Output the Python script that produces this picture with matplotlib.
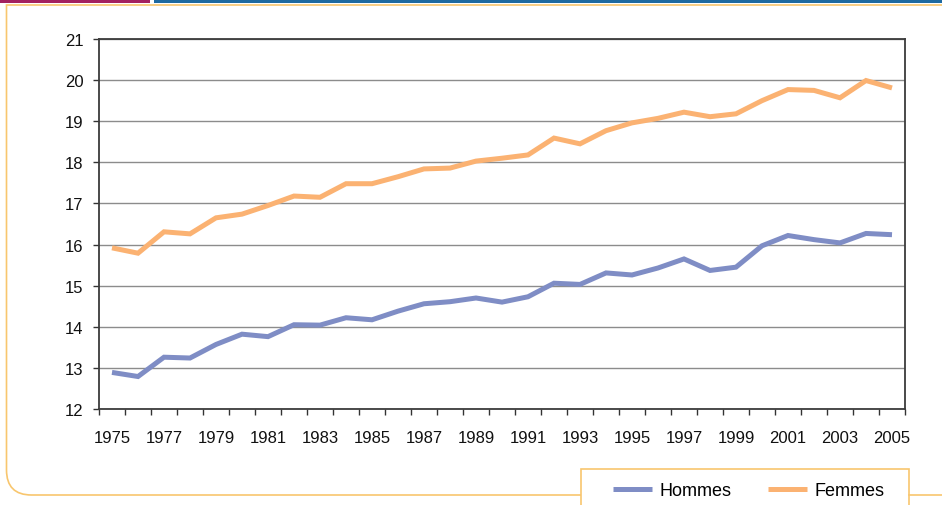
import numpy as np
import matplotlib
matplotlib.use('Agg')
import matplotlib.pyplot as plt
from matplotlib.patches import Rectangle
from matplotlib.path import Path
from matplotlib.patches import PathPatch

plt.rcParams['font.family'] = ['Liberation Sans', 'DejaVu Sans']

years = list(range(1975, 2006))
hommes = [12.89, 12.79, 13.26, 13.24, 13.57, 13.82, 13.76, 14.05, 14.04, 14.22,
          14.17, 14.38, 14.56, 14.61, 14.70, 14.60, 14.73, 15.06, 15.03, 15.31,
          15.26, 15.43, 15.65, 15.37, 15.45, 15.97, 16.22, 16.12, 16.04, 16.27,
          16.24]
femmes = [15.92, 15.79, 16.31, 16.26, 16.65, 16.74, 16.95, 17.18, 17.15, 17.48,
          17.48, 17.65, 17.84, 17.86, 18.03, 18.10, 18.18, 18.59, 18.45, 18.77,
          18.96, 19.07, 19.22, 19.11, 19.18, 19.50, 19.77, 19.75, 19.57, 19.99,
          19.81]
series_names = ['Hommes', 'Femmes']
series_colors = ['#7f8dc5', '#fbb272']
y_ticks = list(range(12, 22))

W, H = 942, 506
fig = plt.figure(figsize=(W / 100, H / 100), dpi=100)

# decorative frame (pixel coords overlay)
deco = fig.add_axes([0, 0, 1, 1], zorder=0)
deco.set_xlim(0, W)
deco.set_ylim(H, 0)
deco.axis('off')
orange = '#f8c66e'
deco.add_patch(Rectangle((0, 0), 150, 3.5, color='#a3215f', lw=0))
deco.add_patch(Rectangle((154, 0), W - 154, 3.5, color='#1f6aa0', lw=0))
r = 25
verts = [(W, 6), (6.5, 6), (6.5, 496 - r), (6.5, 496), (6.5 + r, 496), (581, 496)]
codes = [Path.MOVETO, Path.LINETO, Path.LINETO, Path.CURVE3, Path.CURVE3, Path.LINETO]
deco.add_patch(PathPatch(Path(verts, codes), fill=False, edgecolor=orange, lw=1.2))
deco.plot([909, W], [496, 496], color=orange, lw=1.2)
deco.add_patch(Rectangle((581, 470), 909 - 581, 60, fill=True, facecolor='white',
                         edgecolor=orange, lw=1.2))

ax = fig.add_axes([99 / W, 1 - 410 / H, 806 / W, 370 / H], zorder=1)
ax.set_facecolor('none')
lines = []
for vals, name, c in zip([hommes, femmes], series_names, series_colors):
    ln, = ax.plot(years, vals, color=c, lw=3.6, solid_capstyle='butt',
                  solid_joinstyle='miter', label=name, zorder=3)
    lines.append(ln)

ax.set_xlim(years[0] - 0.5, years[-1] + 0.5)
ax.set_ylim(12, 21)
ax.set_yticks(y_ticks)
ax.set_xticks(years[::2])
ax.set_xticks(np.arange(years[0] - 0.5, years[-1] + 1), minor=True)
ax.tick_params(axis='x', which='major', length=0, pad=15, labelsize=12, labelcolor='#111111')
ax.tick_params(axis='x', which='minor', length=4, width=1, direction='out', color='#333333')
ax.tick_params(axis='y', length=4.3, width=1, direction='out', color='#333333', pad=7,
               labelsize=12, labelcolor='#111111')
ax.grid(axis='y', color='#8c8c8c', lw=1)
ax.set_axisbelow(True)
for s in ax.spines.values():
    s.set_color('#3c3c3c')
    s.set_linewidth(1.3)

fig.legend(lines, series_names, loc='center left', bbox_to_anchor=(613 / W, 1 - 492 / H),
           ncol=2, frameon=False, fontsize=13, handlelength=2.15, handletextpad=0.45,
           columnspacing=2.0, borderpad=0, borderaxespad=0)

fig.savefig('out.png', dpi=100)
